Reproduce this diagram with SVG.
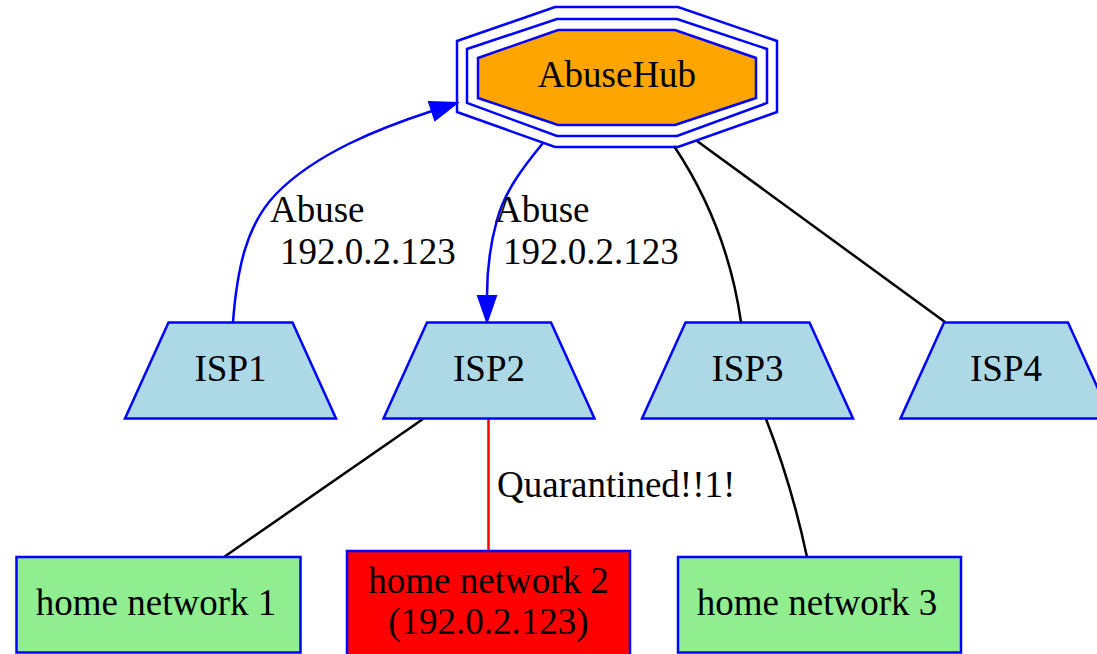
<svg xmlns="http://www.w3.org/2000/svg" width="1097" height="654" viewBox="0 0 1097 654">
  <style>
    text { font-family: "Liberation Serif", "Times New Roman", serif; font-size: 37px; fill: #000; }
    .mid { text-anchor: middle; }
    .node { stroke: #0000ff; stroke-width: 2.5; }
    .isp { fill: #add8e6; }
    .home { fill: #90ee90; }
    .edge { fill: none; stroke-width: 2.5; }
    .blue { stroke: #0000ff; }
    .black { stroke: #000; }
    .red { stroke: #ff0000; }
  </style>
  <rect width="1097" height="654" fill="#ffffff"/>

  <!-- connectors -->
  <g id="edges">
    <!-- ISP1 -> AbuseHub -->
    <path class="edge blue" d="M233,322 C237,270 246,225 276,194 C316,153 380,128 432,111"/>
    <polygon points="435,120 429,102 457,103" fill="#0000ff" stroke="#0000ff" stroke-width="2"/>
    <!-- AbuseHub -> ISP2 -->
    <path class="edge blue" d="M543,143 C525,165 505,190 497,220 C490,245 487,270 487,296"/>
    <polygon points="478,296 496,296 487,322" fill="#0000ff" stroke="#0000ff" stroke-width="2"/>
    <!-- AbuseHub - ISP3 -->
    <path class="edge black" d="M674,146 C700,185 730,245 741,322"/>
    <!-- AbuseHub - ISP4 -->
    <path class="edge black" d="M697,141 L945,322"/>
    <!-- ISP2 - home network 1 -->
    <path class="edge black" d="M423,419 L224,557"/>
    <!-- ISP2 - home network 2 -->
    <path class="edge red" d="M488.5,419 L488.5,551"/>
    <!-- ISP3 - home network 3 -->
    <path class="edge black" d="M766,419 C780,455 796,505 807,557"/>

    <text x="270" y="222">Abuse</text>
    <text x="280" y="264">192.0.2.123</text>
    <text x="495" y="222">Abuse</text>
    <text x="503" y="264">192.0.2.123</text>
    <text x="497" y="497">Quarantined!!1!</text>
  </g>

  <!-- AbuseHub (triple octagon) -->
  <g id="abusehub">
    <polygon class="node" fill="none" points="555,7 678,7 777,41 777,112 678,147 555,147 457,112 457,41"/>
    <polygon class="node" fill="none" points="557,19 677,19 767,49 767,103 677,136 557,136 467,103 467,49"/>
    <polygon class="node" fill="#ffa500" points="558,30 675,30 756,58 756,98 675,125 558,125 478,98 478,58"/>
    <text class="mid" x="617" y="87">AbuseHub</text>
  </g>

  <!-- ISPs -->
  <g id="isp1">
    <polygon class="node isp" points="168.5,322.5 292.5,322.5 336,418.5 125,418.5"/>
    <text class="mid" x="230.5" y="381">ISP1</text>
  </g>
  <g id="isp2">
    <polygon class="node isp" points="427,322.5 551,322.5 594.5,418.5 383.5,418.5"/>
    <text class="mid" x="489" y="381">ISP2</text>
  </g>
  <g id="isp3">
    <polygon class="node isp" points="685.5,322.5 809.5,322.5 853,418.5 642,418.5"/>
    <text class="mid" x="747.5" y="381">ISP3</text>
  </g>
  <g id="isp4">
    <polygon class="node isp" points="944,322.5 1068,322.5 1111.5,418.5 900.5,418.5"/>
    <text class="mid" x="1006" y="381">ISP4</text>
  </g>

  <!-- home networks -->
  <g id="home1">
    <rect class="node home" x="16.5" y="557" width="284" height="95.5"/>
    <text class="mid" x="156" y="615">home network 1</text>
  </g>
  <g id="home2">
    <rect class="node" fill="#ff0000" x="347" y="551" width="283" height="110"/>
    <text class="mid" x="488.5" y="593">home network 2</text>
    <text class="mid" x="488.5" y="634">(192.0.2.123)</text>
  </g>
  <g id="home3">
    <rect class="node home" x="678" y="557" width="283" height="95.5"/>
    <text class="mid" x="817" y="615">home network 3</text>
  </g>
</svg>
